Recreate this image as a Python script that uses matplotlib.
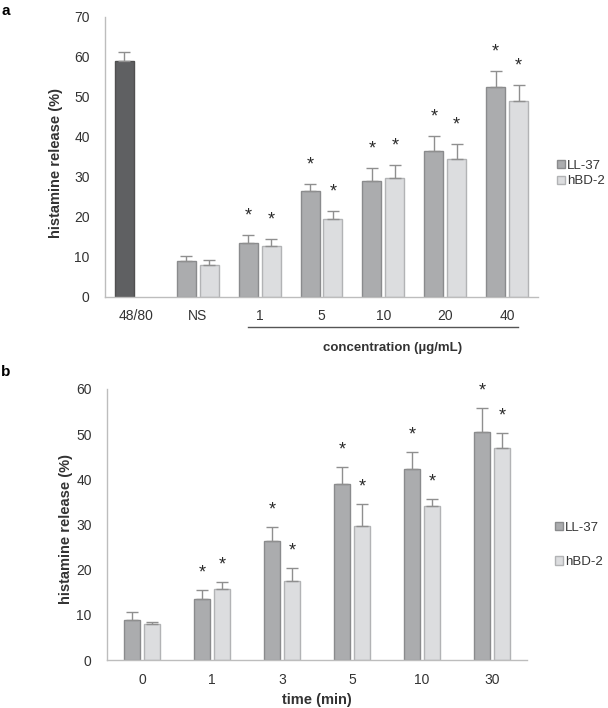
import numpy as np
import matplotlib
matplotlib.use("Agg")
import matplotlib.pyplot as plt
from matplotlib.patches import Patch
import matplotlib.transforms as mtransforms

plt.rcParams['font.family'] = ['Liberation Sans', 'DejaVu Sans']

# ---------------- Data: panel a ----------------
a_categories = ["48/80", "NS", "1", "5", "10", "20", "40"]
a_ctrl_value = 59.0
a_ctrl_err = 2.2
a_ll37 = [np.nan, 8.9, 13.6, 26.4, 29.1, 36.4, 52.6]
a_ll37_err = [np.nan, 1.3, 1.9, 1.9, 3.1, 3.8, 3.9]
a_hbd2 = [np.nan, 7.9, 12.7, 19.6, 29.7, 34.4, 49.1]
a_hbd2_err = [np.nan, 1.3, 1.9, 2.0, 3.3, 3.8, 3.8]
a_ll37_sig = [False, False, True, True, True, True, True]
a_hbd2_sig = [False, False, True, True, True, True, True]

# ---------------- Data: panel b ----------------
b_categories = ["0", "1", "3", "5", "10", "30"]
b_ll37 = [8.9, 13.6, 26.3, 38.9, 42.2, 50.4]
b_ll37_err = [1.8, 2.0, 3.2, 3.8, 3.8, 5.5]
b_hbd2 = [7.9, 15.7, 17.4, 29.6, 34.2, 46.9]
b_hbd2_err = [0.6, 1.5, 3.0, 4.9, 1.5, 3.4]
b_ll37_sig = [False, True, True, True, True, True]
b_hbd2_sig = [False, True, True, True, True, True]

C_CTRL = "#5f6062"
C_LL = "#abacae"
E_LL = "#8a8b8d"
C_HB = "#dcdddf"
E_HB = "#b2b3b5"
ERR_C = "#8f8f8f"
TXT = "#333333"
SPINE = "#bdbdbd"

W, H = 608, 708
fig = plt.figure(figsize=(W / 100, H / 100), dpi=100)


def px_axes(left, right, top, bottom):
    return fig.add_axes([left / W, 1 - bottom / H, (right - left) / W, (bottom - top) / H])


def style_axes(ax):
    for s in ["top", "right"]:
        ax.spines[s].set_visible(False)
    for s in ["left", "bottom"]:
        ax.spines[s].set_color(SPINE)
        ax.spines[s].set_linewidth(1.0)
    ax.tick_params(axis="both", length=0, labelsize=10, labelcolor=TXT)
    ax.tick_params(axis="y", pad=11)
    ax.tick_params(axis="x", pad=9)


def draw_pair(ax, x, vals, errs, sigs, color, edge, width, star_off):
    vals = np.asarray(vals, float)
    errs = np.asarray(errs, float)
    ax.bar(x, vals, width=width, color=color, edgecolor=edge, linewidth=1.0, zorder=2)
    ax.errorbar(x, vals, yerr=[np.zeros_like(errs), errs], fmt="none",
                ecolor=ERR_C, elinewidth=1.0, capsize=4, capthick=1.0, zorder=3)
    for xi, v, e, s in zip(x, vals, errs, sigs):
        if s and not np.isnan(v):
            ax.annotate("*", xy=(xi, v + e), xytext=(0, star_off), textcoords="offset points",
                        ha="center", va="baseline", fontsize=13, color="#2a2a2a")


# ---------------- Panel a ----------------
axa = px_axes(105, 538, 17, 297)
style_axes(axa)
xa = np.arange(len(a_categories))
wa, oa = 0.306, 0.185
axa.bar([xa[0] - oa], [a_ctrl_value], width=wa, color=C_CTRL, edgecolor="#505050",
        linewidth=1.0, zorder=2)
axa.errorbar([xa[0] - oa], [a_ctrl_value], yerr=[[0], [a_ctrl_err]], fmt="none",
             ecolor=ERR_C, elinewidth=1.0, capsize=4, capthick=1.0, zorder=3)
draw_pair(axa, xa - oa, a_ll37, a_ll37_err, a_ll37_sig, C_LL, E_LL, wa, 10.5)
draw_pair(axa, xa + oa, a_hbd2, a_hbd2_err, a_hbd2_sig, C_HB, E_HB, wa, 10.5)
axa.set_xlim(-0.5, len(a_categories) - 0.5)
axa.set_ylim(0, 70)
axa.set_yticks(np.arange(0, 71, 10))
axa.set_xticks(xa)
axa.set_xticklabels(a_categories)
axa.set_ylabel("histamine release (%)", fontsize=10.5, fontweight="bold", color=TXT,
               va="center", ha="center")
axa.yaxis.set_label_coords(-0.113, 0.479)

trans_a = mtransforms.blended_transform_factory(axa.transData, axa.transAxes)
axa.plot([1.81, 6.18], [-0.107, -0.107], transform=trans_a, color="#555555",
         linewidth=1.0, clip_on=False)
axa.text(4.15, -0.182, "concentration (µg/mL)", transform=trans_a, ha="center",
         va="center", fontsize=9.5, fontweight="bold", color=TXT)

handles = [Patch(facecolor=C_LL, edgecolor=E_LL), Patch(facecolor=C_HB, edgecolor=E_HB)]
axa.legend(handles, ["LL-37", "hBD-2"], loc="center left", bbox_to_anchor=(1.028, 0.441),
           frameon=False, fontsize=9.5, handlelength=0.6, handleheight=0.6,
           handletextpad=0.2, labelspacing=0.3, borderpad=0, labelcolor=TXT)

# ---------------- Panel b ----------------
axb = px_axes(107, 527, 389, 660)
style_axes(axb)
xb = np.arange(len(b_categories))
wb, ob = 0.235, 0.14
draw_pair(axb, xb - ob, b_ll37, b_ll37_err, b_ll37_sig, C_LL, E_LL, wb, 9)
draw_pair(axb, xb + ob, b_hbd2, b_hbd2_err, b_hbd2_sig, C_HB, E_HB, wb, 9)
axb.set_xlim(-0.5, len(b_categories) - 0.5)
axb.set_ylim(0, 60)
axb.set_yticks(np.arange(0, 61, 10))
axb.set_xticks(xb)
axb.set_xticklabels(b_categories)
axb.set_ylabel("histamine release (%)", fontsize=10.5, fontweight="bold", color=TXT,
               va="center", ha="center")
axb.yaxis.set_label_coords(-0.098, 0.483)
axb.set_xlabel("time (min)", fontsize=10.5, fontweight="bold", color=TXT, va="center")
axb.xaxis.set_label_coords(0.5, -0.148)
axb.legend(handles, ["LL-37", "hBD-2"], loc="center left", bbox_to_anchor=(1.05, 0.424),
           frameon=False, fontsize=9.5, handlelength=0.6, handleheight=0.6,
           handletextpad=0.2, labelspacing=1.7, borderpad=0, labelcolor=TXT)

fig.text(0.002, 0.995, "a", fontsize=11, fontweight="bold", va="top", ha="left")
fig.text(0.002, 1 - 365 / H, "b", fontsize=11, fontweight="bold", va="top", ha="left")

fig.savefig("out.png", dpi=100)
